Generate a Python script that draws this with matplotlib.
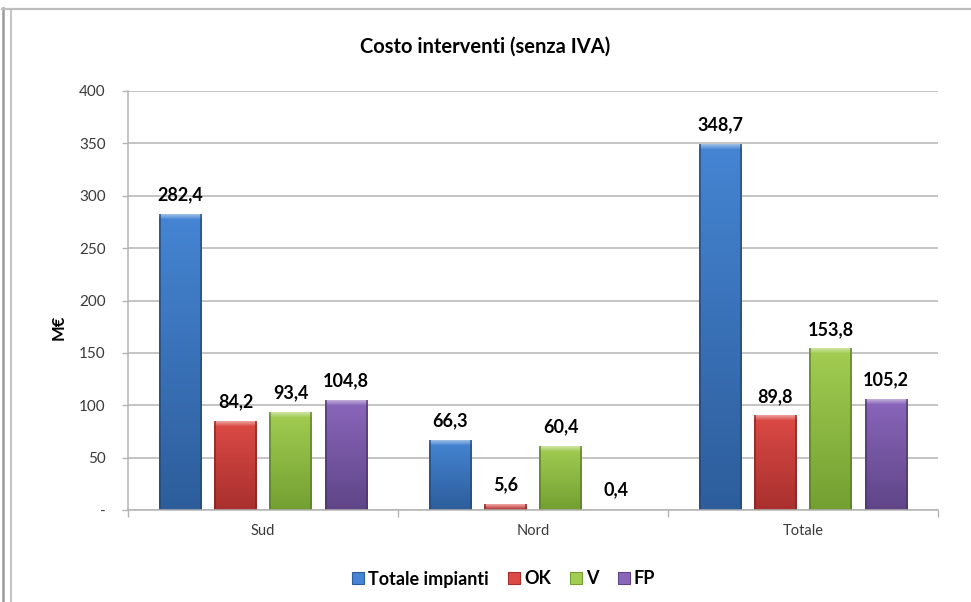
import numpy as np
import matplotlib
matplotlib.use("Agg")
import matplotlib.pyplot as plt
from matplotlib.lines import Line2D
from matplotlib.colors import to_rgb

# ---- data -------------------------------------------------------------
categories = ["Sud", "Nord", "Totale"]
series_names = ["Totale impianti", "OK", "V", "FP"]
totale_impianti = [282.4, 66.3, 348.7]
ok_values = [84.2, 5.6, 89.8]
v_values = [93.4, 60.4, 153.8]
fp_values = [104.8, 0.4, 105.2]
y_ticks = [0, 50, 100, 150, 200, 250, 300, 350, 400]
y_tick_labels = ["-", "50", "100", "150", "200", "250", "300", "350", "400"]

series_values = [totale_impianti, ok_values, v_values, fp_values]
# (top colour, bottom colour) of each series' shaded fill
series_colors = [("#4585d3", "#2d5d9b"),
                 ("#dc4a45", "#a8302e"),
                 ("#a3cd52", "#72a031"),
                 ("#8a66bb", "#5f4588")]

FONT = "Lato"
TEXT = "#000000"
TICK_TEXT = "#3a3a3a"
GRID = "#b4b4b4"

W, H, DPI = 971, 602, 100
fig = plt.figure(figsize=(W / DPI, H / DPI), dpi=DPI)
fig.patch.set_facecolor("white")
ax = fig.add_axes([128 / W, 1 - 510 / H, (938 - 128) / W, (510 - 91) / H])

n = len(series_values)
step = 0.204
width = 0.156
x = np.arange(len(categories))

ax.set_xlim(-0.5, len(categories) - 0.5)
ax.set_ylim(0, 400)

bars = []
for i, (vals, name) in enumerate(zip(series_values, series_names)):
    offs = (i - (n - 1) / 2) * step
    b = ax.bar(x + offs, vals, width, color=series_colors[i][0],
               edgecolor="none", label=name, zorder=3)
    bars.append(b)


def shade(c, f):
    c = np.array(to_rgb(c))
    if f >= 0:
        return c + (1 - c) * f
    return c * (1 + f)


def bar_image(top, bottom, hpx, wpx):
    """Vertical gradient with a light bevel on top and darker side edges."""
    hpx = max(hpx, 2)
    wpx = max(wpx, 4)
    t = np.linspace(0, 1, hpx)[:, None]
    top_c = np.array(to_rgb(top))
    bot_c = np.array(to_rgb(bottom))
    img = (top_c[None, None, :] * (1 - t[..., None]) + bot_c[None, None, :] * t[..., None])
    img = np.repeat(img, wpx, axis=1)
    # bevel at the top
    bev = min(5, hpx)
    for r in range(bev):
        f = 0.45 * (1 - r / bev)
        img[r, :, :] = img[r, :, :] + (1 - img[r, :, :]) * f
    # darker edges
    edge = shade(bottom, -0.25)
    img[:, :2, :] = img[:, :2, :] * 0.35 + edge * 0.65
    img[:, -2:, :] = img[:, -2:, :] * 0.35 + edge * 0.65
    img[-1:, :, :] = img[-1:, :, :] * 0.3 + edge * 0.7
    return np.clip(img, 0, 1)


fig.canvas.draw()
for i, b in enumerate(bars):
    for rect in b.patches:
        x0, y0 = rect.get_x(), rect.get_y()
        w, h = rect.get_width(), rect.get_height()
        p0 = ax.transData.transform((x0, y0))
        p1 = ax.transData.transform((x0 + w, y0 + h))
        hpx = int(round(abs(p1[1] - p0[1])))
        wpx = int(round(abs(p1[0] - p0[0])))
        if hpx < 1:
            rect.set_facecolor(series_colors[i][1])
            rect.set_edgecolor(GRID)
            rect.set_linewidth(0.6)
            continue
        img = bar_image(*series_colors[i], hpx, wpx)
        ax.imshow(img, extent=(x0, x0 + w, y0, y0 + h), aspect="auto",
                  interpolation="nearest", zorder=4, origin="upper")

# value labels
for i, (vals, b) in enumerate(zip(series_values, bars)):
    labels = [f"{v:.1f}".replace(".", ",") for v in vals]
    ax.bar_label(b, labels=labels, padding=8, fontsize=13,
                 fontweight="bold", family=FONT, color=TEXT, zorder=5)

ax.set_xlim(-0.5, len(categories) - 0.5)
ax.set_ylim(0, 400)

# grid and axes
ax.set_yticks(y_ticks)
ax.set_yticklabels(y_tick_labels, family=FONT, fontsize=11, color=TICK_TEXT)
ax.yaxis.grid(True, color=GRID, linewidth=1.1, zorder=0)
ax.set_axisbelow(True)
ax.tick_params(axis="y", direction="out", length=4, width=1, color=GRID, pad=12)

ax.set_xticks(x)
ax.set_xticklabels(categories, family=FONT, fontsize=10.5, color=TICK_TEXT)
ax.set_xticks(np.arange(len(categories) + 1) - 0.5, minor=True)
ax.tick_params(axis="x", which="major", length=0, pad=10)
ax.tick_params(axis="x", which="minor", direction="out", length=5, width=1, color=GRID)

for s in ["top", "right"]:
    ax.spines[s].set_visible(False)
for s in ["left", "bottom"]:
    ax.spines[s].set_color(GRID)
    ax.spines[s].set_linewidth(1.1)
    ax.spines[s].set_zorder(6)

ax.set_ylabel("M€", family=FONT, fontsize=12, fontweight="bold", color=TEXT)
ax.yaxis.set_label_coords((67 - 128) / (938 - 128), 0.436)

fig.text(0.5, 1 - 47 / H, "Costo interventi (senza IVA)", ha="center", va="center",
         family=FONT, fontsize=14.5, fontweight="bold", color=TEXT)

# legend with shaded square markers
handles = [Line2D([], [], marker="s", linestyle="none", markersize=9,
                  markerfacecolor=c[0], markeredgecolor=c[1], markeredgewidth=0.8)
           for c in series_colors]
fig.legend(handles, series_names, loc="center", bbox_to_anchor=(502 / W, 1 - 579 / H),
           ncol=4, frameon=False, handletextpad=0.05, columnspacing=0.9,
           handlelength=1.0, prop={"family": FONT, "size": 13, "weight": "bold"})

# outer frame lines
fig.add_artist(Line2D([2.5 / W, 2.5 / W], [0, 1 - 8 / H], color="#9a9a9a", lw=1.8,
                      transform=fig.transFigure))
fig.add_artist(Line2D([10.5 / W, 10.5 / W], [0, 1 - 9 / H], color="#c4c4c4", lw=1.5,
                      transform=fig.transFigure))
fig.add_artist(Line2D([2 / W, 1], [1 - 9 / H, 1 - 9 / H], color="#bdbdbd", lw=1.6,
                      transform=fig.transFigure))

fig.savefig("out.png", dpi=DPI)
